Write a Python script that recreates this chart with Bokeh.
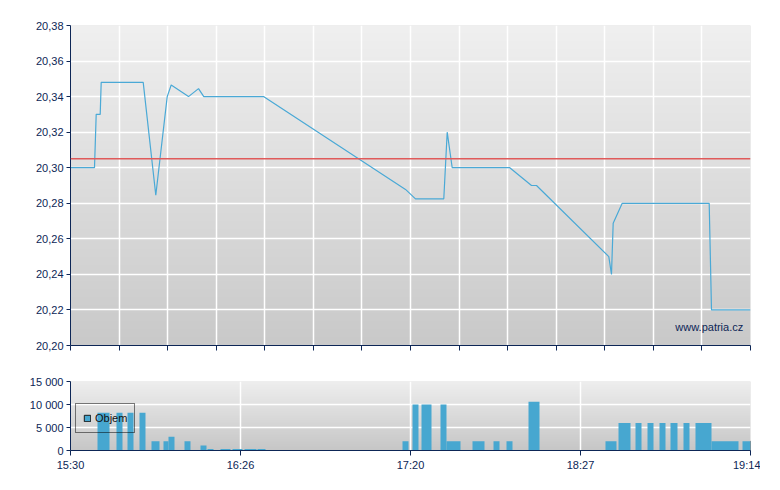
import numpy as np
from bokeh.plotting import figure
from bokeh.layouts import column
from bokeh.models import (FixedTicker, CustomJSTickFormatter, Label, Span,
                          Range1d, Legend, LegendItem, ColumnDataSource)
from bokeh.embed import file_html
from bokeh.resources import INLINE

# ---------------- data ----------------
# x positions are in axis units: 15:30 = 0 ... 19:14 = 28 (labels every 7 units)
x_tick_labels = ["15:30", "16:26", "17:20", "18:27", "19:14"]
x_label_pos = [0, 7, 14, 21, 28]
x_minor_grid = list(range(0, 29, 2))

price_x = [0.0, 0.988, 1.058, 1.223, 1.264, 2.994, 3.512, 3.982, 4.146, 4.859,
           5.271, 5.489, 7.947, 13.794, 14.206, 15.371, 15.511, 15.717, 18.089,
           18.982, 19.188, 22.165, 22.276, 22.346, 22.717, 26.299, 26.394, 28.0]
price_y = [20.300, 20.300, 20.330, 20.330, 20.348, 20.348, 20.2845, 20.340, 20.3465, 20.340,
           20.3445, 20.340, 20.340, 20.2878, 20.2825, 20.2825, 20.320, 20.300, 20.300,
           20.290, 20.290, 20.250, 20.240, 20.2688, 20.280, 20.280, 20.220, 20.220]
ref_level = 20.305
price_ticks = [20.20, 20.22, 20.24, 20.26, 20.28, 20.30, 20.32, 20.34, 20.36, 20.38]

vol_left = [1.112, 1.894, 2.347, 2.841, 3.335, 3.829, 4.035, 4.694, 5.353, 5.641,
            6.176, 6.671, 7.165, 7.700, 13.671, 14.082, 14.453, 15.235, 15.482,
            16.553, 17.418, 17.953, 18.859, 22.029, 22.565, 23.265, 23.759, 24.253,
            24.706, 25.241, 25.735, 26.394, 27.671]
vol_right = [1.606, 2.141, 2.594, 3.088, 3.665, 4.035, 4.282, 4.941, 5.600, 5.888,
             6.588, 7.082, 7.659, 8.029, 13.918, 14.329, 14.865, 15.482, 16.059,
             17.047, 17.665, 18.200, 19.312, 22.482, 23.059, 23.512, 24.006, 24.500,
             24.994, 25.488, 26.394, 27.506, 28.000]
vol_value = [8200, 8200, 8200, 8200, 2000, 2000, 3000, 2000, 1100, 300,
             300, 300, 300, 300, 2000, 10000, 10000, 10000, 2000,
             2000, 2000, 2000, 10600, 2000, 6000, 6000, 6000, 6000,
             6000, 6000, 6000, 2000, 2000]
vol_ticks = [0, 5000, 10000, 15000]

# ---------------- style ----------------
NAVY = "#0d2656"
LINE_BLUE = "#4aa9d6"
BAR_BLUE = "#47a7d0"
FONT = "Liberation Sans"


def gradient(top_rgb, bottom_rgb, n=80):
    img = np.zeros((n, 1), dtype=np.uint32)
    view = img.view(dtype=np.uint8).reshape((n, 1, 4))
    for i in range(n):
        t = i / (n - 1)
        for c in range(3):
            view[i, 0, c] = int(round(bottom_rgb[c] + (top_rgb[c] - bottom_rgb[c]) * t))
        view[i, 0, 3] = 255
    return img


def style_axes(p):
    for ax in (p.xaxis[0], p.yaxis[0]):
        ax.axis_line_color = NAVY
        ax.axis_line_width = 1
        ax.major_tick_line_color = NAVY
        ax.major_tick_in = 0
        ax.minor_tick_line_color = None
        ax.major_label_text_color = NAVY
        ax.major_label_text_font = FONT
        ax.major_label_text_font_size = "11px"
        ax.major_label_standoff = 3
    p.yaxis[0].major_tick_out = 4
    p.xaxis[0].major_tick_out = 5
    p.grid.grid_line_color = "white"
    p.grid.grid_line_width = 1.5
    p.outline_line_color = None
    p.background_fill_color = "#dddddd"
    p.border_fill_color = "white"


# ---------------- top: price ----------------
p = figure(frame_width=680, frame_height=320, output_backend="svg",
           toolbar_location=None, min_border_left=70, min_border_right=10,
           min_border_top=25, min_border_bottom=17,
           x_range=Range1d(0, 28), y_range=Range1d(20.20, 20.38))
p.image_rgba(image=[gradient((239, 239, 239), (201, 201, 201))], x=0, y=20.20,
             dw=28, dh=0.18, level="image")
style_axes(p)
p.xaxis.ticker = FixedTicker(ticks=x_minor_grid)
p.xaxis.formatter = CustomJSTickFormatter(code="return ''")
p.yaxis.ticker = FixedTicker(ticks=price_ticks)
p.yaxis.formatter = CustomJSTickFormatter(code="return tick.toFixed(2).replace('.', ',')")

p.add_layout(Span(location=ref_level, dimension="width", line_color="#e05a5a",
                  line_width=1.5))
p.line(price_x, price_y, line_color=LINE_BLUE, line_width=1.2)
p.add_layout(Label(x=27.7, y=20.2103, text="www.patria.cz", text_align="right",
                   text_baseline="alphabetic", text_font=FONT,
                   text_font_size="11px", text_color=NAVY))

# ---------------- bottom: volume ----------------
p2 = figure(frame_width=680, frame_height=69, output_backend="svg",
            toolbar_location=None, min_border_left=70, min_border_right=10,
            min_border_top=19, min_border_bottom=30,
            x_range=Range1d(0, 28), y_range=Range1d(0, 15000))
vol_src = ColumnDataSource(dict(left=vol_left, right=vol_right, top=vol_value,
                                bottom=[0] * len(vol_value)))
# legend swatch renderer (outlined), hidden underneath the background gradient
swatch = p2.quad(left="left", right="right", top="top", bottom="bottom", source=vol_src,
                 fill_color=BAR_BLUE, line_color="#1a1a1a", line_width=1, level="image")
p2.image_rgba(image=[gradient((238, 238, 238), (198, 198, 198))], x=0, y=0,
              dw=28, dh=15000, level="image")
style_axes(p2)
p2.xaxis.ticker = FixedTicker(ticks=x_label_pos)
p2.xaxis.major_label_overrides = {pos: lab for pos, lab in zip(x_label_pos, x_tick_labels)}
p2.yaxis.ticker = FixedTicker(ticks=vol_ticks)
p2.yaxis.formatter = CustomJSTickFormatter(
    code="return Math.round(tick).toString().replace(/\\B(?=(\\d{3})+(?!\\d))/g, ' ')")

p2.quad(left="left", right="right", top="top", bottom="bottom", source=vol_src,
        fill_color=BAR_BLUE, line_color=None)

legend = Legend(items=[LegendItem(label="Objem", renderers=[swatch])],
                location=(5, 17), background_fill_alpha=0,
                border_line_color="black", border_line_width=1,
                glyph_width=8, glyph_height=8, label_height=14, label_width=20,
                label_standoff=4, padding=7, margin=0, spacing=0,
                label_text_font=FONT, label_text_font_size="11px",
                label_text_color="#111111")
p2.add_layout(legend)

layout = column(p, p2, spacing=0)
open("out.html", "w").write(file_html(layout, INLINE))
